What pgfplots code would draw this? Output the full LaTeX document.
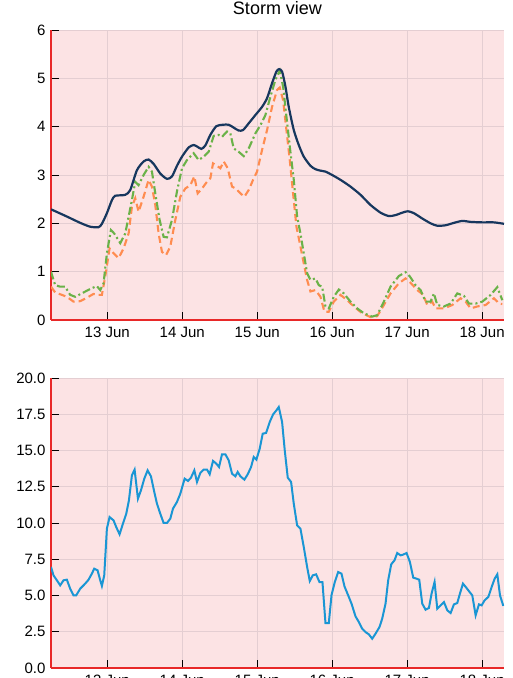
\documentclass[border=0pt]{standalone}
\usepackage{fontspec}
\setmainfont{Liberation Sans}
\usepackage{pgfplots}
\pgfplotsset{compat=1.18}
\definecolor{bgpink}{RGB}{252,227,228}
\definecolor{gridc}{RGB}{228,206,210}
\definecolor{axred}{RGB}{232,40,40}
\definecolor{navy}{RGB}{23,55,94}
\definecolor{sgreen}{RGB}{106,178,72}
\definecolor{sorange}{RGB}{255,140,80}
\definecolor{sblue}{RGB}{26,150,212}
\pgfplotsset{stormax/.style={
  scale only axis, width=453pt, height=290pt,
  xmin=6, xmax=151,
  xtick={24,48,72,96,120,144},
  xticklabels={13 Jun,14 Jun,15 Jun,16 Jun,17 Jun,18 Jun},
  axis x line*=bottom, axis y line*=left,
  x axis line style={-, draw=axred, line width=1.3pt},
  y axis line style={-, draw=axred, line width=1.3pt},
  tick align=inside, major tick length=8pt,
  tick style={black, line width=0.9pt},
  grid=major, grid style={gridc, line width=0.9pt},
  axis background/.style={fill=bgpink},
  /pgf/number format/assume math mode=true,
  tick label style={font=\fontsize{15}{18}\selectfont},
  xticklabel style={anchor=base, yshift=-17.5pt},
  yticklabel style={anchor=east, xshift=-2pt},
  clip=true,
}}
\begin{document}
\begin{tikzpicture}
\begin{axis}[stormax, at={(51pt,358pt)}, anchor=south west,
  ymin=0, ymax=6, ytick={0,1,2,3,4,5,6},
  title={Storm view},
  title style={font=\fontsize{18}{21}\selectfont, at={(0.5,1)}, anchor=base, yshift=10pt}]
\addplot[sorange, line width=2.1pt, dash pattern=on 7pt off 4pt] coordinates {
(6.0,0.69)(7.34,0.57)(9.47,0.52)(11.08,0.48)(13.21,0.38)(15.35,0.39)(17.49,0.46)(19.62,0.54)(21.22,0.52)(22.29,0.52)(23.36,0.90)(24.75,1.48)(26.03,1.38)(27.63,1.28)(29.23,1.48)(30.84,1.79)(31.90,2.34)(32.97,2.52)(34.04,2.24)(35.64,2.55)(37.24,2.90)(38.31,2.76)(39.38,2.38)(40.45,1.79)(41.52,1.41)(42.80,1.34)(44.19,1.52)(45.79,2.07)(47.39,2.55)(48.99,2.72)(50.60,2.79)(51.88,2.97)(52.95,2.62)(54.33,2.72)(55.94,2.86)(57.00,2.93)(57.86,3.24)(59.14,3.19)(60.21,3.14)(61.28,3.28)(62.56,3.14)(63.95,2.76)(65.34,2.71)(66.62,2.62)(67.90,2.55)(69.29,2.69)(70.68,2.90)(71.96,3.07)(73.56,3.52)(75.16,3.93)(76.76,4.41)(78.37,4.76)(79.22,4.81)(80.29,4.55)(81.36,3.93)(82.43,3.31)(83.49,2.62)(84.56,1.93)(85.63,1.59)(86.91,1.17)(87.98,0.83)(89.05,0.59)(90.65,0.62)(92.25,0.48)(93.53,0.17)(94.92,0.17)(96.52,0.38)(98.66,0.52)(100.80,0.41)(102.93,0.28)(105.60,0.14)(108.27,0.06)(110.41,0.08)(112.55,0.31)(114.68,0.55)(117.35,0.76)(119.49,0.86)(121.09,0.77)(123.23,0.62)(125.15,0.52)(126.43,0.31)(128.03,0.38)(129.10,0.24)(131.77,0.24)(134.44,0.31)(137.11,0.45)(138.71,0.38)(140.32,0.24)(142.45,0.28)(145.12,0.31)(147.79,0.45)(149.40,0.34)(150.46,0.33)
};
\addplot[sgreen, line width=2.1pt, dash pattern=on 8pt off 3pt on 2pt off 3pt] coordinates {
(6.0,1.00)(7.34,0.72)(8.94,0.69)(10.54,0.69)(12.14,0.52)(13.75,0.48)(16.42,0.57)(19.09,0.66)(20.69,0.70)(21.76,0.62)(22.83,0.76)(23.89,1.38)(25.18,1.86)(26.24,1.79)(28.17,1.59)(29.77,1.79)(31.90,2.48)(32.97,2.86)(34.04,2.79)(35.64,3.00)(37.24,3.17)(38.31,3.07)(39.38,2.62)(40.77,2.07)(42.05,1.72)(43.12,1.71)(44.72,2.07)(46.32,2.66)(47.93,3.14)(49.53,3.31)(51.66,3.45)(53.27,3.31)(54.87,3.38)(56.47,3.48)(58.07,3.81)(59.68,3.83)(60.74,3.79)(62.35,3.90)(63.41,3.86)(64.48,3.55)(66.08,3.48)(67.69,3.39)(69.29,3.55)(71.42,3.86)(73.03,4.03)(74.63,4.24)(76.23,4.62)(77.83,4.97)(79.22,5.16)(80.29,4.83)(81.36,4.21)(82.43,3.59)(83.71,2.90)(84.78,2.14)(85.84,1.79)(86.91,1.38)(87.98,0.97)(89.05,0.83)(90.65,0.86)(91.72,0.72)(92.79,0.69)(93.85,0.28)(94.92,0.24)(96.52,0.48)(98.13,0.63)(99.73,0.55)(101.86,0.38)(104.00,0.24)(106.14,0.14)(108.81,0.07)(110.41,0.10)(112.55,0.38)(114.68,0.69)(117.35,0.91)(119.49,0.99)(120.88,0.90)(122.69,0.72)(124.29,0.62)(125.90,0.38)(127.50,0.38)(128.57,0.55)(129.64,0.31)(131.77,0.28)(133.91,0.34)(136.04,0.55)(138.18,0.50)(139.78,0.34)(141.92,0.34)(144.05,0.38)(146.73,0.52)(148.86,0.68)(150.46,0.41)
};
\addplot[navy, line width=2.2pt, smooth, tension=0.4] coordinates {
(6.0,2.29)(11.1,2.14)(15.35,2.01)(18.55,1.93)(21.22,1.92)(22.29,1.99)(23.89,2.21)(25.50,2.48)(26.56,2.57)(29.77,2.59)(31.37,2.69)(33.51,3.10)(35.64,3.28)(37.24,3.32)(38.85,3.23)(40.98,3.03)(43.12,2.92)(44.72,2.97)(46.32,3.19)(47.93,3.38)(50.06,3.57)(51.66,3.62)(52.73,3.59)(54.12,3.54)(55.40,3.61)(57.00,3.83)(58.93,4.01)(61.06,4.04)(62.88,4.04)(64.48,3.98)(66.08,3.92)(67.47,3.93)(69.29,4.07)(71.42,4.24)(73.56,4.41)(75.16,4.59)(76.76,4.90)(78.15,5.14)(79.01,5.19)(79.97,5.14)(81.04,4.83)(82.10,4.41)(83.71,3.93)(85.31,3.62)(86.91,3.38)(89.05,3.19)(90.65,3.12)(92.25,3.09)(93.85,3.07)(95.99,3.00)(98.66,2.90)(101.86,2.76)(105.07,2.59)(108.27,2.38)(111.48,2.22)(114.15,2.15)(116.28,2.17)(118.42,2.22)(120.24,2.25)(122.16,2.21)(124.83,2.10)(127.50,2.00)(129.64,1.95)(132.31,1.96)(134.98,2.01)(137.65,2.05)(140.32,2.03)(144.05,2.02)(147.79,2.02)(151.0,1.99)
};
\end{axis}
\begin{axis}[stormax, at={(51pt,10pt)}, anchor=south west,
  ymin=0, ymax=20, ytick={0,2.5,5,7.5,10,12.5,15,17.5,20},
  yticklabel style={/pgf/number format/.cd, fixed, fixed zerofill, precision=1}]
\addplot[sblue, line width=2pt] coordinates {
(6.0,6.97)(6.80,6.39)(7.87,6.05)(8.94,5.70)(10.01,6.05)(11.08,6.09)(12.14,5.47)(13.21,5.01)(14.07,5.01)(15.35,5.47)(16.95,5.82)(18.02,6.09)(19.09,6.51)(19.83,6.85)(20.90,6.74)(21.76,6.05)(22.29,5.66)(23.04,6.39)(23.89,9.61)(24.75,10.41)(26.03,10.18)(26.88,9.72)(27.95,9.22)(29.02,9.95)(30.09,10.64)(30.94,11.56)(31.90,13.29)(32.76,13.68)(33.83,11.68)(34.79,12.25)(35.86,13.06)(36.92,13.63)(37.99,13.22)(39.06,12.14)(39.92,11.33)(40.98,10.64)(42.05,10.00)(43.12,10.00)(44.19,10.30)(45.04,10.99)(46.32,11.45)(47.39,12.02)(48.78,13.06)(49.85,12.90)(50.81,13.13)(51.88,13.63)(52.73,12.83)(53.80,13.45)(54.87,13.68)(55.94,13.68)(56.79,13.36)(57.86,14.28)(58.93,14.09)(59.78,13.86)(60.74,14.74)(61.81,14.74)(62.88,14.32)(63.95,13.40)(65.02,13.22)(65.76,13.52)(66.62,13.22)(67.90,12.99)(68.97,13.36)(70.04,13.86)(70.89,14.55)(71.74,14.37)(72.81,15.13)(73.77,16.16)(74.84,16.21)(76.02,16.97)(77.09,17.49)(78.15,17.77)(78.90,18.00)(79.97,16.97)(80.82,15.01)(81.78,13.13)(82.85,12.83)(83.71,11.33)(84.78,9.84)(85.84,9.61)(86.91,8.34)(87.98,6.97)(88.83,6.00)(89.80,6.39)(90.86,6.46)(91.93,5.93)(92.89,5.93)(93.85,3.10)(94.92,3.10)(95.78,5.01)(96.84,5.93)(97.91,6.62)(98.98,6.51)(99.94,5.63)(101.12,5.01)(102.19,4.44)(103.47,3.56)(104.54,3.17)(105.60,2.71)(106.67,2.48)(107.74,2.32)(108.81,2.02)(109.88,2.37)(111.16,2.83)(112.01,3.40)(113.08,4.44)(113.93,6.05)(114.90,7.15)(115.96,7.43)(116.82,7.93)(117.89,7.77)(118.74,7.82)(119.81,7.93)(120.88,7.31)(121.95,6.23)(123.01,6.16)(123.87,6.09)(124.83,4.44)(125.90,4.02)(126.97,4.14)(127.82,5.13)(128.78,5.93)(129.64,4.09)(130.70,4.32)(131.77,4.55)(132.84,3.98)(133.91,3.79)(134.98,4.39)(136.04,4.48)(136.90,5.13)(137.86,5.82)(138.93,5.54)(139.99,5.24)(140.85,5.01)(141.92,3.63)(142.99,4.39)(143.84,4.32)(144.80,4.67)(145.98,4.90)(147.05,5.59)(148.01,6.16)(148.86,6.46)(149.72,5.01)(150.78,4.28)
};
\end{axis}
\pgfresetboundingbox
\path[use as bounding box] (0pt,0pt) rectangle (512pt,678pt);
\end{tikzpicture}
\end{document}
